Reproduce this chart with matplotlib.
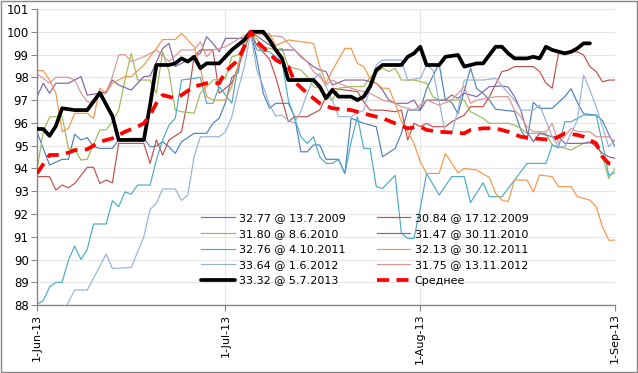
import datetime as dt
import matplotlib
matplotlib.use("Agg")
import matplotlib.pyplot as plt
import matplotlib.dates as mdates
from matplotlib.patches import Rectangle

start = dt.date(2013, 6, 1)

# ---- data: (day offset from 1-Jun-13, value) ----
s1_days = [0, 2, 4, 5, 6, 7, 8, 9, 10, 12, 13, 15, 17, 18, 19, 20, 21, 22, 23, 25, 27, 28, 29, 30, 31, 32, 33, 34,
           35, 36, 37, 38, 40, 41, 42, 43, 44, 45, 46, 48, 49, 50, 52, 54, 55, 57, 58, 59, 61, 62, 64, 65, 66, 67, 69,
           70, 71, 72, 73, 76, 77, 78, 79, 80, 82, 84, 85, 86, 87, 89, 90, 91, 92, 93]
s1_vals = [95.6, 94.15, 94.4, 94.4, 95.5, 95.25, 95.35, 94.95, 94.88, 94.88, 95.25, 95.32, 95.32, 94.95, 94.98, 95.17,
           94.95, 94.66, 95.17, 95.54, 95.54, 95.98, 96.2, 96.9, 98.0, 98.2, 99.7, 100,
           98.8, 97.3, 96.64, 96.86, 96.86, 96.27, 94.73, 94.73, 95.03, 95.03, 94.4, 94.4, 93.78, 96.2, 95.98, 95.83,
           94.51, 94.88, 95.54, 96.56, 96.56, 97.5, 98.6, 97.0, 96.9, 96.4, 98.4,
           97.5, 97.3, 97.0, 96.6, 96.5, 95.7, 95.25, 96.9, 96.64, 96.64, 97.15, 97.5, 96.9, 96.4, 96.34, 96.1, 95.5,
           94.95, 94.5]

s2_days = [0, 2, 3, 4, 5, 6, 8, 9, 10, 11, 12, 13, 15, 17, 18, 19, 20, 21, 23, 24, 25, 26, 28, 29, 31, 32, 33, 34,
           35, 37, 38, 40, 41, 43, 44, 45, 46, 47, 49, 51, 52, 53, 55, 57, 58, 59, 60, 61, 62, 63, 65, 66, 67, 68, 69,
           71, 72, 73, 74, 75, 76, 79, 80, 81, 82, 83, 84, 86, 87, 88, 89, 90, 91, 93]
s2_vals = [93.64, 93.64, 93.05, 93.27, 93.15, 93.34, 94.05, 94.05, 93.34, 93.49, 93.37, 95.1, 95.1, 95.1, 94.22, 95.25,
           94.59, 95.25, 95.61, 97.0, 98.9, 99.2, 99.2, 97.3, 97.74, 98.47, 99.2, 100,
           99.4, 98.8, 98.0, 96.05, 96.27, 96.27, 96.42, 96.56, 97.15, 97.52, 97.44, 97.37, 96.93, 96.56, 96.56, 96.49,
           96.56, 95.25, 95.98, 95.83, 95.98, 95.83, 95.83, 96.05, 96.2, 96.34, 96.71,
           96.71, 97.15, 97.7, 98.25, 98.32, 98.47, 98.47, 98.25, 97.74, 97.52, 99.05, 99.12, 99.12, 98.98, 98.47,
           98.25, 97.8, 97.88, 97.88]

s3_days = [0, 1, 2, 4, 5, 6, 7, 8, 10, 11, 12, 13, 14, 15, 16, 18, 19, 20, 21, 22, 23, 25, 26, 28, 30, 31, 32, 33, 34,
           36, 38, 39, 40, 42, 43, 44, 45, 46, 47, 48, 50, 52, 53, 55, 56, 57, 58, 60, 62, 63, 64, 66, 68, 69, 71, 72,
           75, 76, 77, 78, 81, 82, 85, 87, 89, 90, 91, 92, 93]
s3_vals = [93.93, 95.61, 96.27, 96.27, 94.88, 94.84, 94.37, 94.4, 95.69, 95.69, 96.05, 96.56, 97.88, 99.05, 97.88,
           97.88, 97.3, 99.12, 98.25, 96.56, 96.49, 96.42, 97.3, 97.88, 97.95, 98.9, 98.98, 99.4, 100,
           99.34, 99.2, 99.27, 98.47, 98.32, 98.03, 97.59, 97.52, 97.15, 97.0, 97.52, 97.59, 97.59, 98.0, 98.4, 98.25,
           98.4, 97.88, 97.88, 97.74, 97.15, 97.0, 97.0, 97.0, 96.49, 96.2, 95.98,
           95.98, 95.9, 95.76, 95.54, 95.54, 95.03, 94.81, 95.1, 95.1, 94.51, 93.56, 94.0, 94.07]

s4_days = [0, 1, 2, 3, 5, 6, 7, 8, 10, 11, 12, 13, 15, 17, 18, 20, 21, 22, 24, 26, 27, 28, 29, 30, 33, 34,
           37, 38, 41, 42, 44, 45, 46, 47, 49, 51, 52, 54, 55, 56, 57, 59, 60, 61, 62, 65, 66, 67, 68, 70, 72, 74,
           75, 76, 77, 78, 79, 80, 82, 83, 84, 87, 88, 89, 90, 91, 93]
s4_vals = [97.15, 97.74, 97.3, 97.74, 97.74, 97.88, 98.03, 97.22, 97.3, 97.37, 97.88, 97.66, 97.44, 98.03, 98.06,
           99.27, 99.49, 98.47, 98.76, 99.05, 99.78, 99.49, 99.12, 99.71, 99.71, 100,
           99.42, 99.2, 99.2, 98.9, 98.47, 98.32, 98.25, 97.66, 97.88, 97.88, 97.88, 97.74, 97.44, 97.0, 96.86, 96.86,
           97.0, 96.56, 97.0, 97.0, 97.22, 97.08, 97.3, 97.15, 97.59, 97.62,
           97.57, 97.15, 96.56, 95.61, 95.17, 95.54, 95.39, 95.39, 95.1, 95.1, 95.17, 94.95, 94.66, 94.51, 94.37]

s5_days = [0, 1, 2, 3, 4, 5, 6, 7, 8, 9, 11, 12, 13, 14, 15, 16, 18, 19, 20, 21, 22, 23, 25, 26, 27, 28, 29, 31,
           32, 33, 34, 35, 37, 39, 40, 41, 42, 43, 44, 45, 46, 47, 48, 49, 50, 51, 52, 53, 54, 55, 57, 58, 59, 60,
           61, 62, 64, 66, 68, 69, 71, 72, 74, 76, 78, 81, 82, 83, 84, 85, 87, 89, 90, 91, 93]
s5_vals = [88.04, 88.2, 88.8, 89.0, 89.0, 89.98, 90.59, 90.0, 90.45, 91.56, 91.56, 92.58, 92.32, 92.97, 92.87, 93.27,
           93.27, 94.37, 95.25, 95.9, 96.2, 97.88, 97.95, 98.0, 96.86, 96.86, 97.59, 96.86,
           98.5, 99.64, 100, 99.2, 99.12, 98.69, 97.0, 96.2, 95.39, 95.1, 95.39, 94.51, 94.22, 94.22, 94.4, 93.78,
           95.17, 96.27, 94.88, 94.88, 93.2, 93.12, 93.7, 91.15, 90.93, 90.93,
           92.25, 93.78, 92.83, 93.64, 93.64, 92.5, 93.37, 92.76, 92.76, 93.49, 94.22, 94.22, 95.03, 94.9, 96.05,
           96.05, 96.34, 96.34, 95.1, 93.7, 93.93]

s6_days = [0, 1, 2, 3, 4, 5, 6, 8, 9, 10, 11, 12, 14, 15, 17, 18, 19, 20, 22, 23, 25, 26, 27, 28, 30, 31, 32, 33, 34,
           35, 37, 38, 40, 42, 44, 45, 46, 47, 49, 50, 51, 52, 53, 55, 56, 57, 58, 59, 60, 61, 62, 64, 65, 67, 68,
           70, 72, 73, 74, 75, 76, 78, 79, 80, 82, 83, 85, 86, 88, 89, 90, 91, 92, 93]
s6_vals = [98.29, 98.29, 97.88, 97.3, 95.61, 95.76, 96.42, 96.42, 96.2, 97.52, 97.3, 97.74, 98.03, 98.03, 98.54,
           98.9, 99.27, 99.66, 99.66, 99.93, 99.34, 98.4, 97.15, 97.0, 97.0, 97.6, 98.47, 99.64, 100,
           99.9, 99.93, 99.4, 99.64, 99.56, 99.49, 98.47, 97.74, 98.3, 99.27, 99.27, 98.61, 98.47, 97.95, 97.52,
           97.52, 96.86, 96.05, 95.61, 95.1, 94.3, 93.78, 93.78, 94.66, 93.81, 94.0,
           93.93, 93.6, 92.9, 92.61, 92.54, 93.49, 93.49, 92.97, 93.71, 93.64, 93.2, 93.2, 92.76, 92.61, 92.32, 91.44,
           90.85, 90.85, 90.56]

s7_days = [0, 4, 6, 8, 11, 12, 15, 17, 18, 19, 20, 22, 23, 24, 25, 26, 29, 30, 31, 32, 33, 34,
           35, 36, 37, 38, 39, 40, 41, 42, 43, 44, 45, 46, 47, 48, 50, 52, 54, 55, 58, 59, 61, 62, 63, 65, 66, 67,
           68, 71, 73, 75, 76, 77, 79, 80, 82, 83, 84, 86, 87, 88, 89, 91, 92, 93]
s7_vals = [86.8, 87.6, 88.66, 88.66, 90.24, 89.61, 89.65, 91.0, 92.2, 92.47, 93.1, 93.1, 92.6, 92.83, 94.51, 95.39,
           95.39, 95.61, 96.27, 97.44, 98.47, 99.93,
           98.3, 97.6, 96.8, 96.3, 96.34, 96.1, 96.0, 96.5, 97.3, 97.9, 98.17, 97.59, 97.0, 96.27, 96.27, 96.56, 98.54,
           98.76, 98.76, 97.88, 97.95, 98.54, 98.32, 95.54, 95.54, 96.56,
           97.88, 97.88, 97.95, 97.3, 97.0, 96.56, 96.56, 96.78, 95.39, 94.95, 94.95, 96.12, 98.1, 97.44, 96.71,
           94.95, 95.25, 95.54]

s8_days = [0, 2, 3, 5, 6, 7, 8, 9, 10, 11, 12, 13, 14, 15, 17, 19, 21, 23, 25, 26, 27, 28, 30, 34,
           36, 39, 41, 43, 44, 45, 46, 47, 48, 50, 51, 53, 54, 55, 57, 58, 59, 60, 62, 64, 66, 68, 69, 70, 73, 75,
           76, 77, 78, 79, 81, 82, 83, 85, 86, 88, 89, 91, 92, 93]
s8_vals = [98.15, 97.74, 98.0, 98.0, 97.88, 97.3, 96.93, 96.86, 97.22, 97.3, 98.03, 98.98, 99.0, 98.69, 98.9, 99.2,
           98.69, 99.2, 99.2, 99.56, 98.9, 99.2, 99.34, 100,
           99.86, 99.78, 99.2, 98.69, 98.25, 98.03, 97.66, 97.88, 97.74, 97.52, 97.44, 97.3, 97.15, 97.0, 96.86, 96.71,
           96.64, 96.56, 97.0, 96.78, 97.0, 97.59, 96.86, 97.0, 97.15, 97.15,
           96.56, 96.27, 95.83, 95.61, 95.61, 95.98, 95.1, 95.76, 95.61, 95.61, 95.39, 95.39, 95.17, 95.25]

s9_days = [0, 1, 2, 3, 4, 6, 8, 10, 12, 13, 17, 18, 19, 21, 22, 23, 24, 25, 26, 27, 29, 31, 32, 33, 34, 36, 37, 38,
           39, 40, 44, 45, 46, 47, 48, 50, 51, 52, 53, 54, 55, 58, 59, 60, 61, 62, 64, 65, 67, 68, 70, 71, 72, 73,
           74, 75, 76, 78, 79, 80, 81, 82, 84, 85, 86, 87, 88]
s9_vals = [95.73, 95.73, 95.43, 95.86, 96.64, 96.56, 96.56, 97.32, 96.3, 95.25, 95.25, 96.78, 98.54, 98.54, 98.61,
           98.83, 98.69, 98.9, 98.4, 98.61, 98.61, 99.2, 99.42, 99.64, 100, 100, 99.64, 99.2,
           98.83, 97.88, 97.88, 97.59, 97.08, 97.44, 97.15, 97.15, 97.0, 97.15, 97.59, 98.32, 98.54, 98.54, 98.9,
           99.05, 99.34, 98.54, 98.54, 98.9, 98.98, 98.47, 98.61, 98.61, 98.98, 99.34,
           99.34, 99.05, 98.83, 98.83, 98.9, 98.83, 99.34, 99.2, 99.05, 99.12, 99.27, 99.49, 99.49]

avg_days = [0, 2, 4, 6, 8, 10, 12, 14, 16, 17, 18, 19, 20, 22, 23, 25, 27, 29, 30, 32, 33, 34, 35, 37, 38, 40, 41,
            43, 45, 47, 50, 53, 55, 57, 59, 61, 62, 64, 68, 69, 71, 73, 75, 77, 79, 82, 84, 86, 87, 89, 90, 91, 93]
avg_vals = [93.78, 94.59, 94.59, 94.8, 94.84, 95.17, 95.32, 95.61, 95.83, 95.98, 96.34, 96.86, 97.22, 97.08, 97.22,
            97.59, 97.74, 97.74, 98.25, 98.76, 99.34, 100, 99.56, 99.05, 98.76, 98.47, 97.8,
            97.3, 96.86, 96.64, 96.56, 96.34, 96.2, 95.98, 95.76, 95.83, 95.69, 95.61, 95.54, 95.69, 95.76, 95.76,
            95.61, 95.39, 95.32, 95.25, 95.54, 95.47, 95.39, 95.1, 94.51, 94.22, 94.15]

labels = ["32.77 @ 13.7.2009", "30.84 @ 17.12.2009", "31.80 @ 8.6.2010", "31.47 @ 30.11.2010",
          "32.76 @ 4.10.2011", "32.13 @ 30.12.2011", "33.64 @ 1.6.2012", "31.75 @ 13.11.2012",
          "33.32 @ 5.7.2013", "Среднее"]
colors = ["#4F81BD", "#C0504D", "#9BBB59", "#8064A2", "#4BACC6", "#F79646", "#95B3D7", "#D99694",
          "#000000", "#FF0000"]
y_ticks = list(range(88, 102))
x_tick_dates = [dt.date(2013, 6, 1), dt.date(2013, 7, 1), dt.date(2013, 8, 1), dt.date(2013, 9, 1)]
x_tick_labels = ["1-Jun-13", "1-Jul-13", "1-Aug-13", "1-Sep-13"]

series = [(s1_days, s1_vals), (s2_days, s2_vals), (s3_days, s3_vals), (s4_days, s4_vals),
          (s5_days, s5_vals), (s6_days, s6_vals), (s7_days, s7_vals), (s8_days, s8_vals),
          (s9_days, s9_vals), (avg_days, avg_vals)]

fig = plt.figure(figsize=(6.38, 3.73), dpi=100)
ax = fig.add_axes([0.058, 0.182, 0.906, 0.794])

handles = []
for i, ((days, vals), lab, col) in enumerate(zip(series, labels, colors)):
    dates = [start + dt.timedelta(days=d) for d in days]
    if i < 8:
        h, = ax.plot(dates, vals, color=col, lw=0.85, label=lab, zorder=2)
    elif i == 8:
        h, = ax.plot(dates, vals, color=col, lw=2.7, label=lab, zorder=3,
                     solid_joinstyle="round", solid_capstyle="round")
    else:
        h, = ax.plot(dates, vals, color=col, lw=2.7, label=lab, zorder=4,
                     dashes=(3.2, 2.0))
    handles.append(h)

ax.set_ylim(88, 101)
ax.set_yticks(y_ticks)
ax.set_xlim(start, start + dt.timedelta(days=92.9))
ax.set_xticks([mdates.date2num(d) for d in x_tick_dates])
ax.set_xticklabels(x_tick_labels, rotation=90, fontsize=8)
ax.tick_params(axis="y", labelsize=8.5, direction="out", length=4, color="#868686", pad=2)
ax.tick_params(axis="x", direction="out", length=4, color="#868686", pad=2)

ax.grid(True, color="#E6E6E6", lw=0.8, zorder=0)
ax.set_axisbelow(True)
for side in ["top", "right"]:
    ax.spines[side].set_visible(False)
for side in ["left", "bottom"]:
    ax.spines[side].set_color("#868686")
    ax.spines[side].set_linewidth(1.0)

order = [0, 2, 4, 6, 8, 1, 3, 5, 7, 9]
leg = ax.legend([handles[k] for k in order], [labels[k] for k in order], ncol=2,
                loc="upper left", bbox_to_anchor=(0.300, 0.455),
                bbox_transform=fig.transFigure, frameon=False, fontsize=8,
                handlelength=3.0, handletextpad=0.4, columnspacing=2.8, labelspacing=0.5)

fig.patches.append(Rectangle((0.001, 0.002), 0.997, 0.995, transform=fig.transFigure, fill=False,
                             edgecolor="#868686", lw=1.0))

fig.savefig("out.png", dpi=100)
